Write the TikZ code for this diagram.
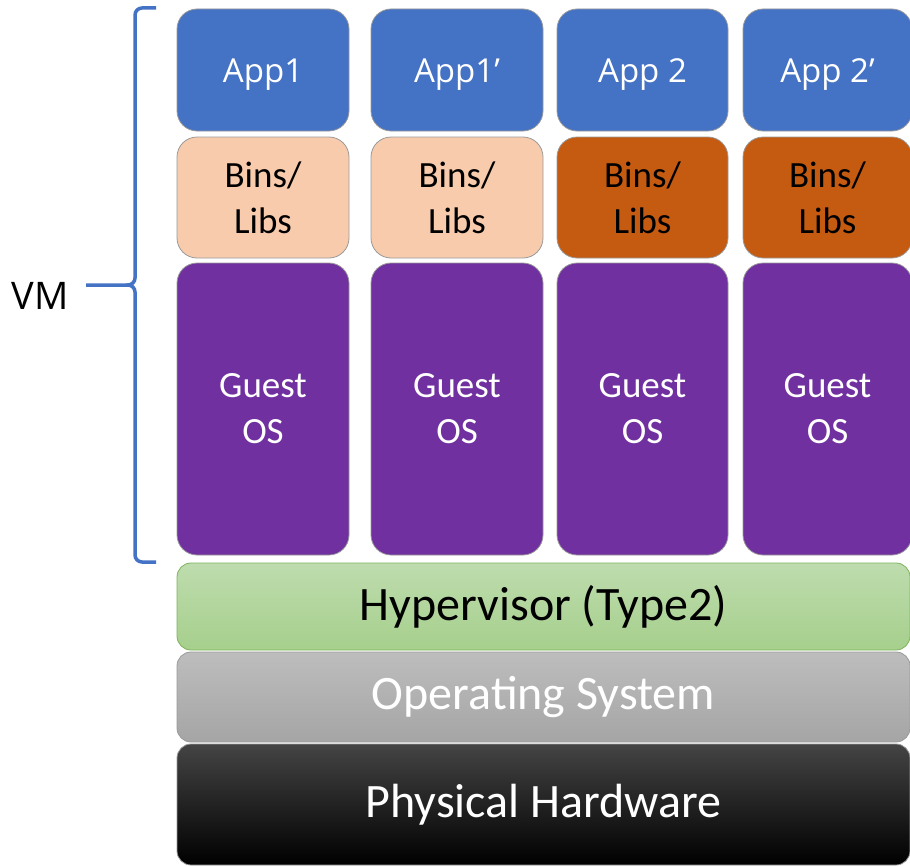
\documentclass[tikz,border=0pt]{standalone}
\usepackage{fontspec}
\setmainfont{Carlito}
\newfontfamily\appfont{Open Sans}
\usetikzlibrary{positioning}

\definecolor{appblue}{HTML}{4472C4}
\definecolor{libslight}{HTML}{F8CBAD}
\definecolor{libsdark}{HTML}{C55A11}
\definecolor{guestpurple}{HTML}{7030A0}
\definecolor{boxline}{HTML}{9A9A9A}
\definecolor{hypertop}{HTML}{BEDCAE}
\definecolor{hyperbot}{HTML}{A6CF8C}
\definecolor{hyperline}{HTML}{7DB35A}
\definecolor{ostop}{HTML}{BDBDBD}
\definecolor{osbot}{HTML}{A5A5A5}
\definecolor{hwtop}{HTML}{444444}

\begin{document}
\begin{tikzpicture}[x=1pt,y=-1pt,
    box/.style={draw=boxline, line width=0.8pt, rounded corners=20pt, inner sep=0pt, align=center, font=\fontsize{37}{46}\selectfont},
    layer/.style={draw=boxline, line width=0.8pt, rounded corners=14pt, inner sep=0pt, minimum width=733, font=\fontsize{48}{56}\selectfont},
    brace/.style={draw=appblue, line width=3.5pt, rounded corners=7pt}]
    \useasboundingbox (0,0) rectangle (910,867);

    % VM columns
    \foreach \n/\xc/\w/\app/\libs in {1/263/172/App1/libslight, 2/457/172/App1’/libslight, 3/642.5/171/App 2/libsdark, 4/827.5/169/App 2’/libsdark} {
        \node[box, fill=appblue, text=white, minimum width=\w, minimum height=122, font=\appfont\fontsize{33}{40}\selectfont] (app\n) at (\xc,70) {\raisebox{-13pt}[0pt][0pt]{\app}};
        \node[box, fill=\libs, minimum width=\w, minimum height=121] (libs\n) at (\xc,197.5) {Bins/\\Libs};
        \node[box, fill=guestpurple, text=white, minimum width=\w, minimum height=292] (guest\n) at (\xc,409) {Guest\\OS};
    }

    % Layers
    \node[layer, draw=hyperline, top color=hypertop, bottom color=hyperbot, minimum height=87] (hyper) at (543.5,606.5) {Hypervisor (Type2)};
    \node[layer, top color=ostop, bottom color=osbot, text=white, minimum height=90] (os) at (543.5,697) {Operating System};
    \node[layer, top color=hwtop, middle color=black, bottom color=black, text=white, minimum height=121] (hw) at (543.5,804.5) {Physical Hardware};

    % Brace
    \node[font=\appfont\fontsize{38}{46}\selectfont] (vm) at (40,296) {VM};
    \coordinate (bracetop) at (156,8);
    \coordinate (bracebot) at (156,562);
    \coordinate (bracetip) at (86,285);
    \draw[brace] (bracetop) -- (135,8) -- (135,285) -- (bracetip);
    \draw[brace] (126,285) -- (135,285) -- (135,562) -- (bracebot);

\end{tikzpicture}
\end{document}
